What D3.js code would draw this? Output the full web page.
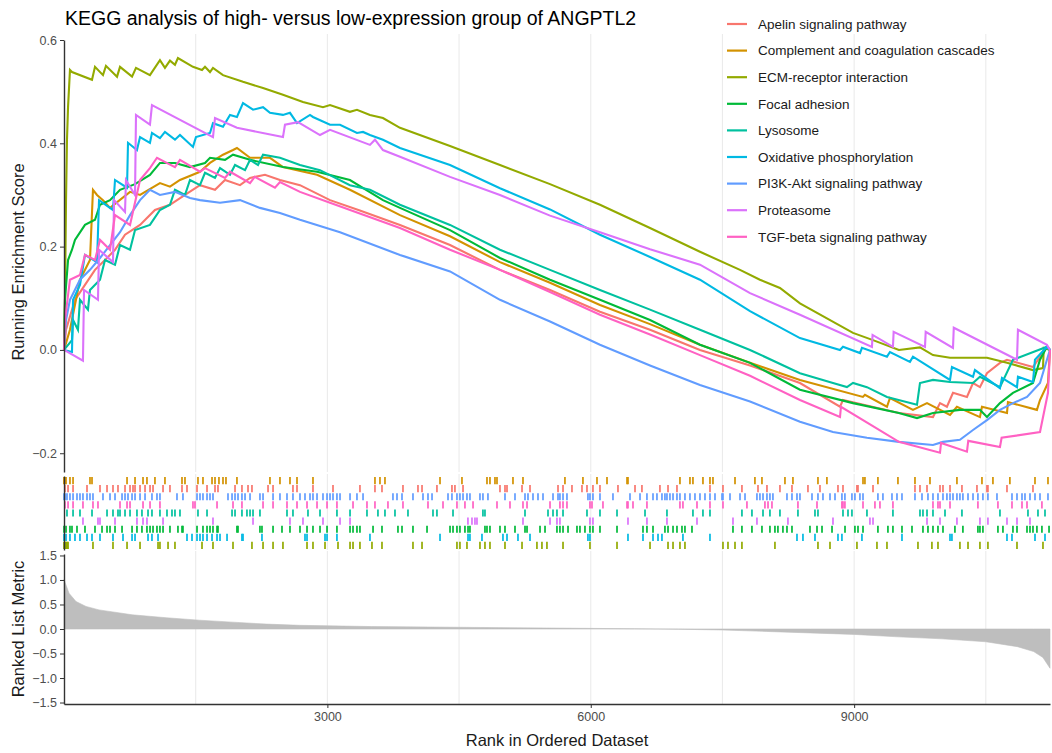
<!DOCTYPE html>
<html>
<head>
<meta charset="utf-8">
<script src="https://cdn.jsdelivr.net/npm/d3@7"></script>
<style>
  html, body { margin: 0; padding: 0; background: #ffffff; }
  svg { display: block; font-family: "Liberation Sans", Arial, Helvetica, sans-serif; }
</style>
</head>
<body>
<svg id="chart" width="1052" height="753"></svg>
<script>
// ---- Gene sets (legend order) ----
const pathways = [
  "Apelin signaling pathway",
  "Complement and coagulation cascades",
  "ECM-receptor interaction",
  "Focal adhesion",
  "Lysosome",
  "Oxidative phosphorylation",
  "PI3K-Akt signaling pathway",
  "Proteasome",
  "TGF-beta signaling pathway"
];
const pathwayColors = ["#F8766D", "#D39200", "#93AA00", "#00BA38", "#00C19F", "#00B9E3", "#619CFF", "#DB72FB", "#FF61C3"];

const totalGenes = 11231;
const xTicks = [3000, 6000, 9000];
const xGrid = [1500, 3000, 4500, 6000, 7500, 9000, 10500];
const esTicks = [-0.2, 0.0, 0.2, 0.4, 0.6];
const metricTicks = [-1.5, -1.0, -0.5, 0.0, 0.5, 1.0, 1.5];

// ---- Running enrichment score, [rank, score] ----
const esApelin = [[0,0],[23,0.039],[125,0.097],[239,0.126],[353,0.155],[467,0.174],[581,0.194],[695,0.223],[866,0.242],[1036,0.271],[1207,0.281],[1378,0.300],[1549,0.319],[1720,0.310],[1834,0.329],[2005,0.319],[2119,0.333],[2289,0.339],[2460,0.329],[2688,0.319],[3030,0.290],[3370,0.270],[3827,0.242],[4397,0.203],[4966,0.155],[5536,0.116],[6105,0.074],[6675,0.039],[7244,0.0],[7814,-0.030],[8383,-0.064],[8839,-0.110],[8873,-0.097],[9510,-0.122],[9898,-0.130],[9978,-0.103],[10057,-0.110],[10126,-0.083],[10285,-0.091],[10354,-0.064],[10433,-0.072],[10513,-0.045],[10661,-0.025],[10741,-0.019],[11037,-0.033],[11196,0.006],[11231,0]];
const esComplement = [[0,0],[68,0.039],[182,0.136],[296,0.174],[330,0.310],[376,0.300],[444,0.290],[524,0.275],[752,0.306],[866,0.300],[1093,0.323],[1207,0.316],[1321,0.329],[1549,0.345],[1663,0.362],[1811,0.378],[1925,0.387],[1970,0.391],[2119,0.372],[2346,0.372],[2494,0.354],[2882,0.339],[3257,0.310],[3827,0.261],[4397,0.220],[4966,0.170],[5536,0.130],[6105,0.087],[6675,0.050],[7244,0.010],[7814,-0.025],[8383,-0.058],[9100,-0.091],[9123,-0.087],[9374,-0.110],[9408,-0.093],[9670,-0.116],[9830,-0.103],[10092,-0.126],[10171,-0.110],[10433,-0.130],[10456,-0.110],[10741,-0.122],[10752,-0.101],[11082,-0.116],[11117,-0.097],[11208,-0.064],[11231,0]];
const esECM = [[0,0],[11,0.097],[23,0.290],[34,0.407],[46,0.470],[68,0.542],[91,0.538],[319,0.523],[353,0.548],[444,0.532],[478,0.550],[604,0.529],[638,0.548],[775,0.529],[820,0.546],[979,0.532],[1093,0.561],[1150,0.546],[1207,0.560],[1264,0.552],[1298,0.565],[1469,0.548],[1572,0.542],[1606,0.548],[1663,0.538],[1697,0.546],[1811,0.532],[2039,0.519],[2267,0.507],[2494,0.494],[2722,0.480],[2950,0.470],[3030,0.474],[3257,0.461],[3337,0.465],[3485,0.455],[3633,0.449],[3827,0.430],[4397,0.395],[4966,0.358],[5536,0.321],[6105,0.281],[6675,0.236],[7244,0.190],[7700,0.155],[7927,0.136],[8155,0.120],[8383,0.090],[8987,0.033],[9215,0.019],[9510,0.0],[9750,0.005],[9898,-0.010],[10092,-0.015],[10513,-0.015],[10741,-0.025],[11037,-0.039],[11151,-0.035],[11160,0.004],[11231,0]];
const esFocal = [[0,0],[11,0.097],[46,0.174],[91,0.194],[125,0.213],[239,0.242],[353,0.252],[410,0.281],[524,0.290],[638,0.310],[809,0.321],[979,0.339],[1093,0.362],[1264,0.362],[1435,0.354],[1606,0.362],[1663,0.372],[1834,0.368],[1925,0.378],[2119,0.368],[2494,0.354],[2882,0.345],[3257,0.329],[3633,0.290],[3827,0.275],[4397,0.232],[4966,0.178],[5536,0.136],[6105,0.097],[6675,0.058],[7244,0.010],[7814,-0.025],[8383,-0.077],[8987,-0.103],[9510,-0.122],[9716,-0.132],[9898,-0.122],[10205,-0.116],[10433,-0.116],[10513,-0.130],[10661,-0.103],[10809,-0.083],[11037,-0.064],[11117,-0.019],[11196,0.006],[11231,0]];
const esLysosome = [[0,0],[91,0.019],[103,0.058],[159,0.039],[182,0.097],[273,0.078],[296,0.116],[410,0.136],[467,0.174],[581,0.165],[638,0.203],[752,0.194],[809,0.232],[979,0.242],[1093,0.271],[1207,0.281],[1264,0.310],[1378,0.300],[1435,0.329],[1549,0.319],[1606,0.343],[1720,0.333],[1777,0.352],[1891,0.339],[1948,0.358],[2062,0.348],[2119,0.368],[2210,0.358],[2267,0.378],[2460,0.372],[2688,0.358],[2916,0.348],[3257,0.319],[3485,0.310],[3827,0.281],[4397,0.242],[4966,0.194],[5536,0.155],[6105,0.116],[6675,0.078],[7244,0.039],[7814,0.0],[8383,-0.045],[8759,-0.064],[8918,-0.072],[8987,-0.064],[9146,-0.072],[9374,-0.091],[9716,-0.106],[9750,-0.064],[9898,-0.058],[10092,-0.062],[10354,-0.064],[10433,-0.052],[10661,-0.072],[10809,-0.019],[11196,0.006],[11231,0]];
const esOxidative = [[0,0],[91,-0.004],[103,0.097],[182,0.126],[239,0.184],[376,0.170],[399,0.290],[558,0.271],[581,0.329],[718,0.314],[729,0.401],[831,0.387],[866,0.412],[979,0.401],[1002,0.420],[1093,0.410],[1150,0.422],[1264,0.407],[1321,0.416],[1469,0.393],[1503,0.412],[1663,0.420],[1697,0.439],[1811,0.432],[1891,0.455],[1970,0.451],[2039,0.478],[2153,0.465],[2267,0.470],[2346,0.459],[2494,0.455],[2574,0.459],[2654,0.439],[2802,0.455],[2836,0.451],[3030,0.436],[3144,0.436],[3337,0.420],[3406,0.422],[3485,0.416],[3633,0.407],[3827,0.391],[4397,0.358],[4966,0.313],[5536,0.272],[6105,0.223],[6675,0.180],[7244,0.136],[7814,0.075],[8383,0.023],[8839,0.0],[8873,0.006],[9067,-0.006],[9089,0.004],[9374,-0.013],[9408,-0.004],[9636,-0.023],[9670,-0.013],[10092,-0.058],[10114,-0.033],[10354,-0.052],[10376,-0.039],[10661,-0.074],[10684,-0.054],[10855,-0.072],[10866,-0.052],[11037,-0.062],[11060,-0.019],[11196,0.006],[11231,0]];
const esPI3K = [[0,0],[23,0.058],[68,0.097],[182,0.136],[296,0.155],[410,0.178],[524,0.203],[638,0.228],[752,0.261],[866,0.290],[979,0.310],[1093,0.300],[1264,0.306],[1435,0.294],[1549,0.290],[1777,0.285],[2005,0.290],[2232,0.275],[2460,0.265],[2688,0.252],[3144,0.228],[3827,0.184],[4397,0.152],[4966,0.097],[5536,0.055],[6105,0.010],[6675,-0.030],[7244,-0.068],[7814,-0.100],[8383,-0.139],[8759,-0.159],[9146,-0.170],[9510,-0.178],[9898,-0.184],[10012,-0.178],[10205,-0.174],[10354,-0.155],[10513,-0.136],[10661,-0.116],[10809,-0.103],[10969,-0.091],[11117,-0.064],[11196,-0.019],[11231,0]];
const esProteasome = [[0,0],[216,-0.021],[228,0.116],[387,0.097],[399,0.194],[558,0.170],[570,0.290],[695,0.267],[706,0.329],[809,0.300],[820,0.455],[979,0.436],[1002,0.474],[1697,0.412],[1720,0.449],[1970,0.430],[2494,0.412],[2517,0.436],[2665,0.441],[2916,0.416],[3030,0.426],[3485,0.397],[3542,0.407],[3633,0.387],[3827,0.374],[4397,0.335],[4966,0.300],[5536,0.260],[6105,0.228],[6675,0.195],[7244,0.165],[7814,0.110],[8383,0.068],[9203,0.006],[9210,0.029],[9442,0.006],[9450,0.035],[9807,0.006],[9815,0.035],[10126,0.004],[10135,0.043],[10855,-0.019],[10866,0.039],[11196,0.010],[11231,0]];
const esTGF = [[0,0],[11,0.058],[68,0.136],[182,0.145],[239,0.184],[353,0.174],[410,0.213],[524,0.194],[581,0.261],[752,0.242],[866,0.329],[979,0.352],[1059,0.372],[1264,0.354],[1321,0.368],[1549,0.345],[1606,0.352],[1834,0.333],[1891,0.345],[2119,0.323],[2172,0.335],[2403,0.314],[2460,0.325],[2688,0.306],[3030,0.285],[3827,0.236],[4397,0.194],[4966,0.155],[5536,0.112],[6105,0.068],[6675,0.030],[7244,-0.010],[7814,-0.050],[8383,-0.097],[8839,-0.130],[8850,-0.110],[9510,-0.178],[9978,-0.199],[9990,-0.180],[10285,-0.197],[10300,-0.176],[10661,-0.188],[10680,-0.170],[11117,-0.159],[11208,-0.083],[11231,0]];

// ---- Positions of gene-set members in the ranked list ----
const hitsApelin = [11,46,103,262,410,490,558,615,695,752,786,809,866,923,980,1014,1128,1207,1344,1401,1515,1629,1720,1754,1948,2027,2096,2141,2324,2381,2608,2654,2836,3064,3371,3542,3622,3861,4032,4078,4248,4419,4453,4545,4966,5023,5046,5217,5308,5627,5684,5786,5900,5957,6025,6105,6310,6504,6583,6788,6880,6982,7358,7506,7722,7905,8007,8155,8292,8474,8611,8816,8873,9032,9044,9215,9693,9750,9830,9978,10012,10092,10228,10399,10513,10524,10741,11037];
const hitsComplement = [0,5,11,23,68,103,296,319,718,809,900,945,1036,1150,1344,1378,1526,1583,1686,1720,1765,1811,1845,1970,2346,2460,2574,2654,2836,3542,3599,3656,4283,4533,4818,4852,4909,4932,5114,5228,5706,5911,6071,6185,6413,6424,7016,7130,7164,7278,7358,7392,7643,7870,7950,8212,8303,8588,8690,9101,9123,9271,9499,9693,9864,10171,10456,10581,10774,11060,11208];
const hitsECM = [0,8,15,23,30,38,46,330,558,718,866,1071,1093,1185,1264,1572,1697,1925,2141,2267,2381,2494,2768,2836,2973,3121,3258,3292,3371,3508,3622,3975,4078,4476,4510,4590,4738,4795,4852,5023,5217,5387,5444,5501,5684,5991,6299,6675,6880,6937,7016,7073,7506,7563,7643,7722,8098,8588,8725,9032,9260,9374,9727,9886,9955,10205,10297,10433,10524,10855,11151];
const hitsFocal = [0,23,68,91,148,239,353,433,490,524,581,661,775,831,888,945,980,1014,1059,1093,1128,1207,1298,1344,1355,1515,1583,1629,1663,1697,1743,1754,1970,1982,2232,2255,2381,2483,2574,2688,2768,2836,2916,2996,3109,3258,3292,3337,3371,3520,3622,3804,3850,3975,4135,4397,4431,4476,4510,4567,4602,4624,4795,4818,4852,4966,5023,5137,5251,5274,5422,5479,5615,5649,5684,5741,5843,5877,5934,5991,6025,6105,6299,6595,6640,6709,6845,6880,6937,6982,7039,7073,7153,7620,7722,7836,7950,8041,8098,8132,8189,8235,8292,8497,8577,8634,8748,8896,9009,9044,9101,9271,9385,9442,9545,9659,9784,9841,9898,9955,10012,10148,10239,10410,10433,10467,10638,10695,10809,10855,10969,11003,11037,11082,11139,11220];
const hitsLysosome = [34,103,182,319,490,558,615,638,695,752,831,888,957,1002,1093,1173,1230,1264,1321,1526,1629,1914,1948,2027,2084,2119,2153,2232,2540,2608,2779,2916,3109,3258,3451,3576,3656,3770,3918,4203,4248,4431,4772,4795,5251,5513,5570,5615,5684,5957,6105,6299,6618,6868,7164,7278,7358,7722,7836,7962,8041,8155,8360,8554,8588,8873,8930,8975,9146,9442,9750,9784,9830,9898,10035,10228,10661,10980,11094,11174];
const hitsOxidative = [0,23,68,125,182,262,319,410,558,672,775,809,957,1002,1071,1401,1458,1515,1549,1583,1629,1686,1743,1777,1857,2027,2039,2255,2745,2768,2973,2996,3109,3485,4283,4602,4624,4761,5000,5046,5171,5308,5968,5991,6424,6595,6709,6766,6811,7050,7358,8349,8417,8554,8816,8861,9089,9545,10092,10114,10741,10798,11060,11174];
const hitsPI3K = [0,11,34,68,103,148,182,216,262,296,330,444,524,581,661,695,729,775,809,866,923,1002,1059,1093,1287,1355,1515,1549,1583,1629,1663,1697,1868,1914,1948,1982,2027,2062,2119,2232,2267,2381,2460,2540,2608,2688,2745,2802,2836,2882,2950,2996,3030,3064,3109,3144,3258,3337,3406,3747,3793,3850,3975,4089,4146,4192,4374,4419,4476,4510,4545,4590,4624,4738,4772,4829,5023,5137,5251,5285,5342,5399,5456,5570,5627,5649,5684,5729,5968,5991,6025,6105,6253,6447,6561,6640,6709,6754,6811,6845,6868,6902,6937,6982,7016,7073,7130,7187,7244,7301,7358,7415,7495,7506,7586,7700,7757,7893,7927,7962,8007,8041,8075,8235,8292,8349,8383,8520,8588,8645,8725,8782,8861,8895,8975,9009,9066,9101,9271,9328,9431,9488,9545,9693,9773,9841,9898,9955,10012,10057,10092,10126,10171,10205,10239,10297,10354,10410,10467,10524,10627,10798,10855,10912,10946,11003,11060,11117,11208];
const hitsProteasome = [216,387,410,581,831,900,945,1128,1697,2153,2574,2722,2950,3144,3258,4601,4647,4681,4704,5228,5536,5615,5649,5991,6025,6424,6640,6868,7210,7620,7893,8246,8759,9180,9215,9830,9978,10171,10433,10524,10741,10855,11003];
const hitsTGF = [11,46,103,216,330,387,638,718,752,900,980,1093,1469,1492,1743,1925,2027,2267,2381,2540,2654,2768,2882,2996,3109,3292,3451,3542,3690,3861,4146,4317,4476,4567,4659,4932,5080,5228,5274,5536,5649,5684,5729,5991,6014,6139,6413,6424,6481,6640,7016,7050,7210,7358,7506,7779,7984,8019,8064,8360,8577,8861,8873,8895,9101,9237,9294,9442,9898,9955,9978,10092,10410,10638,10798,10912,10969,11139];

// Rug rows, listed from the top row down
const rugOrder = ["Complement and coagulation cascades", "Apelin signaling pathway", "PI3K-Akt signaling pathway", "TGF-beta signaling pathway", "Lysosome", "Proteasome", "Focal adhesion", "Oxidative phosphorylation", "ECM-receptor interaction"];

// ---- Ranked list metric ----
const metricRank  = [0, 57, 137, 251, 399, 776, 1163, 1540, 1917, 2304, 2681, 3500, 4500, 5500, 6500, 7000, 7500, 8000, 8500, 9000, 9500, 10000, 10500, 10860, 11045, 11150, 11231];
const metricValue = [1.01, 0.73, 0.56, 0.46, 0.39, 0.29, 0.23, 0.18, 0.14, 0.10, 0.075, 0.05, 0.035, 0.02, 0.005, -0.005, -0.02, -0.05, -0.08, -0.11, -0.16, -0.20, -0.26, -0.36, -0.46, -0.58, -0.80];

const esSeries = [esApelin, esComplement, esECM, esFocal, esLysosome, esOxidative, esPI3K, esProteasome, esTGF];
const hitSeries = [hitsApelin, hitsComplement, hitsECM, hitsFocal, hitsLysosome, hitsOxidative, hitsPI3K, hitsProteasome, hitsTGF];

// ---- Layout ----
const svg = d3.select("#chart");
const left = 64, right = 1050;
const esTop = 40, esBottom = 472;
const rugTop = 477, rugBottom = 549;
const mTop = 554, mBottom = 704;
const gridColor = "#EBEBEB";
const axisColor = "#333333";
const tickText = "#4D4D4D";

const color = d3.scaleOrdinal().domain(pathways).range(pathwayColors);
const x = d3.scaleLinear().domain([0, totalGenes]).range([left, right]);
const yES = d3.scaleLinear().domain([-0.2363, 0.6]).range([esBottom, esTop]);
const yRug = d3.scaleBand().domain(rugOrder).range([rugTop, rugBottom]).paddingInner(0.12);
const yM = d3.scaleLinear().domain([-1.53, 1.53]).range([mBottom, mTop]);

// Vertical grid lines in each panel
function grid(y0, y1) {
  svg.append("g").selectAll("line").data(xGrid).join("line")
    .attr("x1", d => x(d)).attr("x2", d => x(d))
    .attr("y1", y0).attr("y2", y1)
    .attr("stroke", gridColor).attr("stroke-width", 1.1);
}
grid(esTop - 6, esBottom);
grid(rugTop - 3, rugBottom + 1);
grid(mTop - 3, mBottom);

// Running enrichment score lines
const line = d3.line().x(d => x(d[0])).y(d => yES(d[1]));
svg.append("g").selectAll("path").data(pathways).join("path")
  .attr("d", (p, i) => line(esSeries[i]))
  .attr("fill", "none")
  .attr("stroke", p => color(p))
  .attr("stroke-width", 2.1)
  .attr("stroke-linejoin", "miter");

// Hit rug
pathways.forEach((p, i) => {
  svg.append("g").selectAll("line").data(hitSeries[i]).join("line")
    .attr("x1", d => x(d)).attr("x2", d => x(d))
    .attr("y1", yRug(p)).attr("y2", yRug(p) + yRug.bandwidth())
    .attr("stroke", color(p)).attr("stroke-width", 1.7);
});

// Ranked list metric area
const metric = metricRank.map((r, i) => [r, metricValue[i]]);
svg.append("path")
  .datum(metric)
  .attr("d", d3.area().x(d => x(d[0])).y0(yM(0)).y1(d => yM(d[1])))
  .attr("fill", "#BEBEBE").attr("stroke", "#BEBEBE").attr("stroke-width", 0.6);

// Axes
function styleAxis(g) {
  g.select(".domain").attr("stroke", axisColor).attr("stroke-width", 1.4);
  g.selectAll(".tick line").attr("stroke", axisColor).attr("stroke-width", 1);
  g.selectAll(".tick text").attr("fill", tickText).attr("font-size", 12.5)
    .attr("font-family", "'Liberation Sans', Arial, sans-serif");
}
const fmt1 = d3.format(".1f");
svg.append("g").attr("transform", `translate(${left},0)`)
  .call(d3.axisLeft(yES).tickValues(esTicks).tickFormat(fmt1).tickSize(4).tickPadding(3).tickSizeOuter(0))
  .call(styleAxis);
svg.append("g").attr("transform", `translate(${left},0)`)
  .call(d3.axisLeft(d3.scaleLinear().range([rugTop - 1, rugBottom + 1])).tickValues([]).tickSizeOuter(0))
  .call(styleAxis);
svg.append("g").attr("transform", `translate(${left},0)`)
  .call(d3.axisLeft(yM).tickValues(metricTicks).tickFormat(fmt1).tickSize(4).tickPadding(3).tickSizeOuter(0))
  .call(styleAxis);
svg.append("g").attr("transform", `translate(0,${mBottom})`)
  .call(d3.axisBottom(x).tickValues(xTicks).tickFormat(d3.format("d")).tickSize(4).tickPadding(4).tickSizeOuter(0))
  .call(styleAxis);

// Axis titles
svg.append("text").attr("transform", `translate(24,${(esTop + esBottom) / 2 + 6}) rotate(-90)`)
  .attr("text-anchor", "middle").attr("font-size", 16.5).attr("fill", "#1a1a1a")
  .text("Running Enrichment Score");
svg.append("text").attr("transform", `translate(24,${(mTop + mBottom) / 2}) rotate(-90)`)
  .attr("text-anchor", "middle").attr("font-size", 16.5).attr("fill", "#1a1a1a")
  .text("Ranked List Metric");
svg.append("text").attr("x", (left + right) / 2).attr("y", 746)
  .attr("text-anchor", "middle").attr("font-size", 16.5).attr("fill", "#1a1a1a")
  .text("Rank in Ordered Dataset");

// Title
svg.append("text").attr("x", 65).attr("y", 25)
  .attr("font-size", 19.5).attr("fill", "#000")
  .text("KEGG analysis of high- versus low-expression group of ANGPTL2");

// Legend
const legend = svg.append("g").selectAll("g").data(pathways).join("g")
  .attr("transform", (d, i) => `translate(727,${24 + i * 26.6})`);
legend.append("line").attr("x1", 0).attr("x2", 20).attr("y1", 0).attr("y2", 0)
  .attr("stroke", d => color(d)).attr("stroke-width", 2.2);
legend.append("text").attr("x", 31).attr("y", 4.8)
  .attr("font-size", 13.5).attr("fill", "#1a1a1a").text(d => d);
</script>
</body>
</html>
